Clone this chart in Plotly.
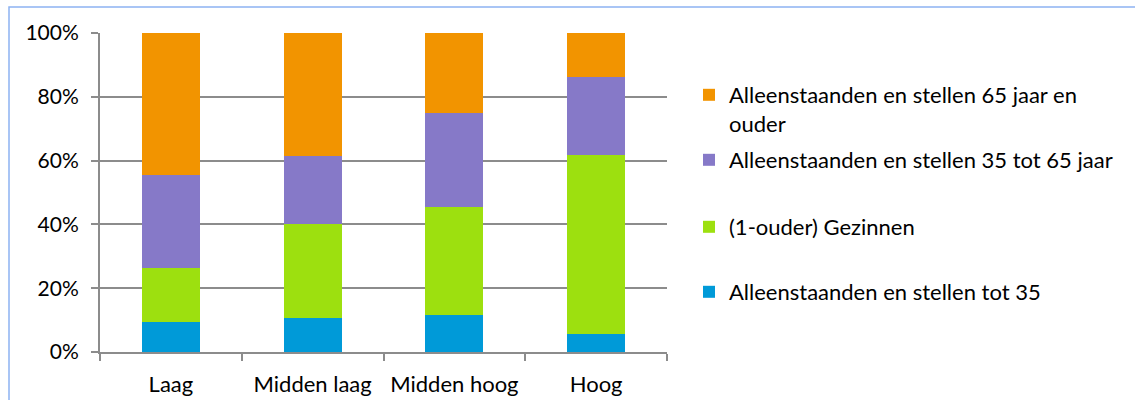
import plotly.graph_objects as go

# Inkomensgroepen
categories = ["Laag", "Midden laag", "Midden hoog", "Hoog"]

# Aandeel huishoudtypen per inkomensgroep (%)
tot_35 = [9.5, 10.8, 11.7, 5.7]
gezinnen = [16.9, 29.3, 33.8, 56.1]
van_35_tot_65 = [29.1, 21.4, 29.4, 24.3]
vanaf_65 = [44.5, 38.5, 25.1, 13.9]

series = [
    ("Alleenstaanden en stellen tot 35", tot_35, "#009AD8", "legend4"),
    ("(1-ouder) Gezinnen", gezinnen, "#9DE00F", "legend3"),
    ("Alleenstaanden en stellen 35 tot 65 jaar", van_35_tot_65, "#8679C8", "legend2"),
    ("Alleenstaanden en stellen 65 jaar en<br>ouder", vanaf_65, "#F29400", "legend"),
]

W, H = 1135, 400
L, R, T, B = 100, 468, 33, 48
pw, ph = W - L - R, H - T - B

def px_x(x):
    return (x - L) / pw

def px_y(y):
    return (H - B - y) / ph

FONT = "Lato"
TXT = 22

fig = go.Figure()
for name, vals, color, lg in series:
    fig.add_trace(go.Bar(
        x=categories, y=vals, name=name, legend=lg,
        marker=dict(color=color, line=dict(width=0)),
        hoverinfo="skip",
    ))

legend_common = dict(
    font=dict(family=FONT, size=TXT, color="#000000"),
    bgcolor="rgba(0,0,0,0)", xanchor="left", yanchor="middle",
    valign="top", itemwidth=30, itemsizing="constant",
)
LX = px_x(689)
fig.update_layout(
    width=W, height=H,
    margin=dict(l=L, r=R, t=T, b=B, autoexpand=False),
    paper_bgcolor="white", plot_bgcolor="white",
    barmode="stack", bargap=0.59,
    font=dict(family=FONT, size=TXT, color="#000000"),
    showlegend=True,
    legend=dict(**legend_common, x=LX, y=px_y(109.5)),
    legend2=dict(**legend_common, x=LX, y=px_y(160)),
    legend3=dict(**legend_common, x=LX, y=px_y(227)),
    legend4=dict(**legend_common, x=LX, y=px_y(292)),
    xaxis=dict(
        automargin=False,
        showline=True, linecolor="#8C8C8C", linewidth=2,
        ticks="outside", tickson="boundaries", ticklen=7, tickwidth=2,
        tickcolor="#8C8C8C", showgrid=False,
        ticklabelstandoff=12,
        tickfont=dict(family=FONT, size=TXT, color="#000000"),
    ),
    yaxis=dict(
        automargin=False,
        range=[0, 100], dtick=20, ticksuffix="%",
        showline=True, linecolor="#8C8C8C", linewidth=2,
        ticks="outside", ticklen=7, tickwidth=2, tickcolor="#8C8C8C",
        showgrid=True, gridcolor="#8C8C8C", gridwidth=1.5,
        zeroline=False, ticklabelstandoff=8,
        tickfont=dict(family=FONT, size=21, color="#000000"),
    ),
    shapes=[dict(
        type="rect", xref="paper", yref="paper",
        x0=px_x(9), x1=px_x(1160), y0=px_y(420), y1=px_y(7),
        line=dict(color="#8DB3F2", width=1.5), fillcolor="rgba(0,0,0,0)",
        layer="below",
    )],
)

fig.write_html("out.html")
